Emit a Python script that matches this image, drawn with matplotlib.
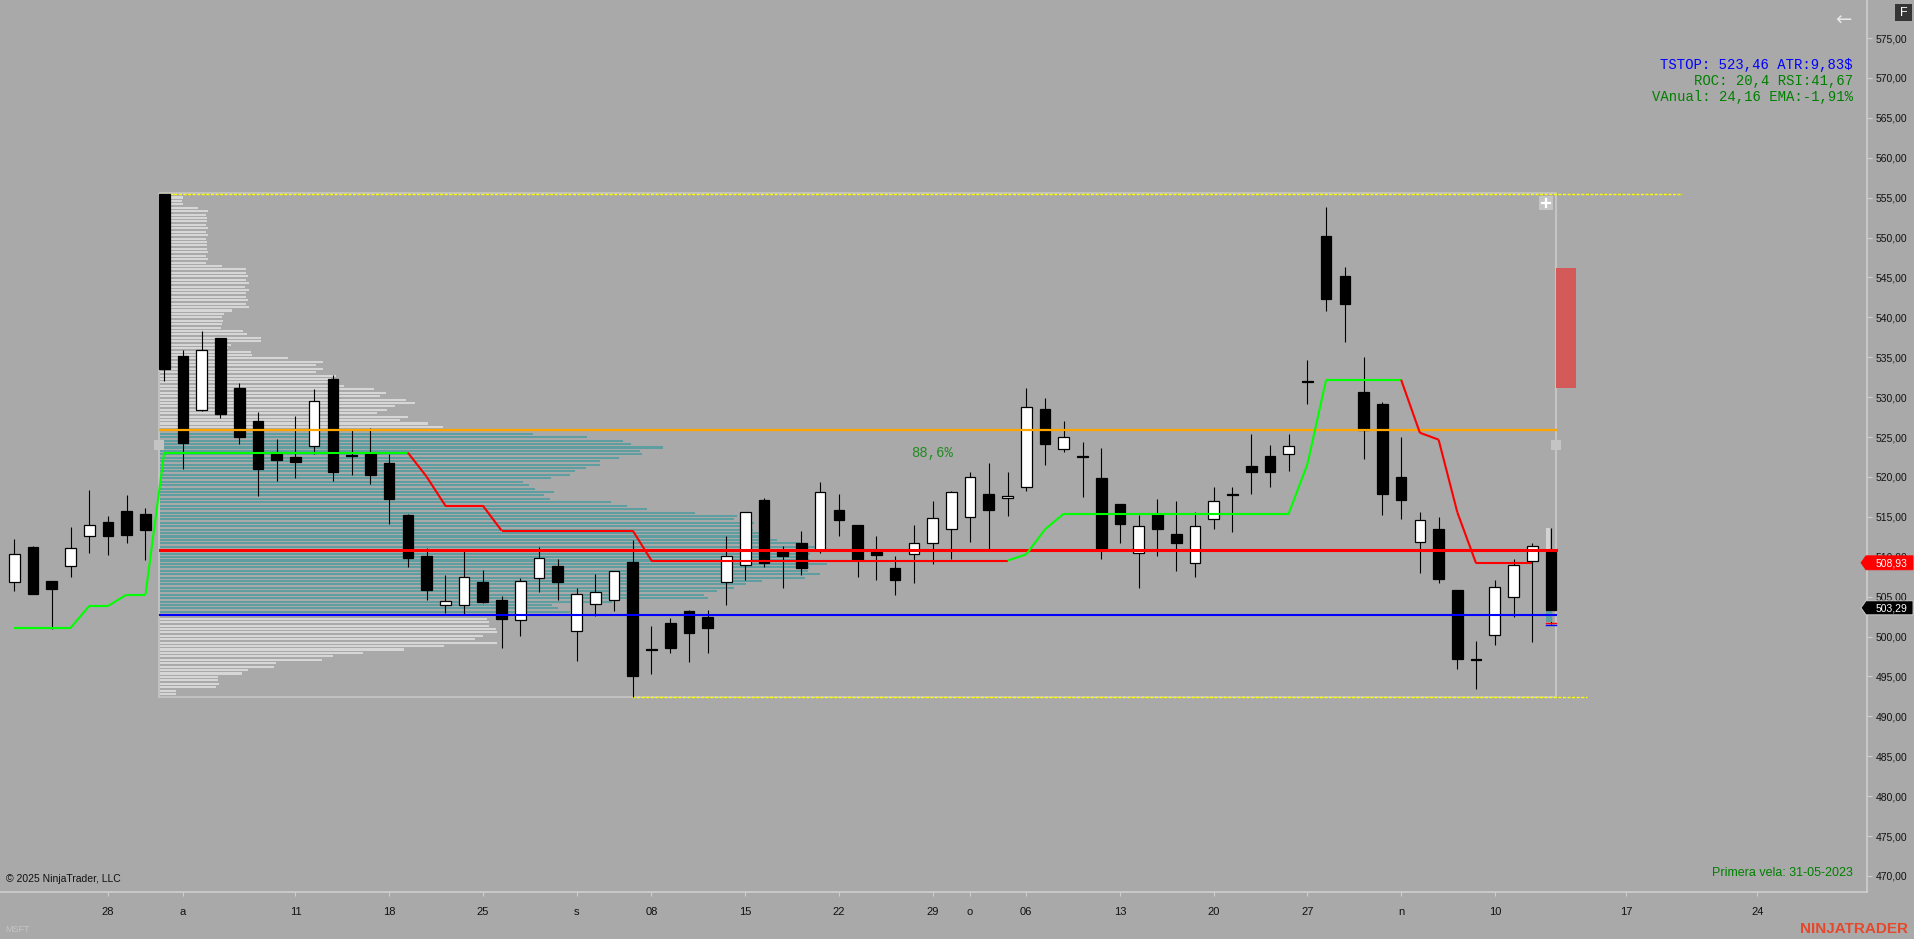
import numpy as np
import pandas as pd
import matplotlib
matplotlib.use('Agg')
import matplotlib.pyplot as plt
from matplotlib.patches import Rectangle, Polygon
from matplotlib.collections import LineCollection

plt.rcParams['font.family'] = ['Liberation Sans', 'DejaVu Sans']

# MSFT daily bars 21-07-2025 .. 13-11-2025
opens = [506.89, 511.23, 506.93, 508.89, 512.65, 514.36, 515.74, 515.37, 555.40, 535.16,
         528.44, 537.42, 531.15, 527.02, 522.88, 522.51, 523.93, 532.28, 522.80, 522.88,
         521.76, 515.24, 510.10, 503.92, 503.92, 506.84, 504.59, 502.12, 507.30, 508.85,
         500.66, 504.05, 504.55, 509.31, 498.40, 501.66, 503.17, 502.45, 506.80, 508.93,
         517.12, 510.85, 511.73, 510.81, 515.86, 513.98, 510.56, 508.55, 510.31, 511.69,
         513.44, 514.94, 517.83, 517.32, 518.79, 528.48, 523.47, 522.55, 519.83, 516.57,
         510.43, 515.36, 512.86, 509.18, 514.78, 517.80, 521.38, 522.63, 522.91, 531.95,
         550.19, 545.18, 530.63, 529.17, 520.02, 511.90, 513.50, 505.82, 497.15, 500.25,
         505.00, 509.53, 510.61]
highs = [512.23, 511.40, 507.00, 513.74, 518.37, 515.11, 517.75, 516.12, 555.45, 535.92,
         538.30, 537.45, 531.78, 528.15, 524.76, 527.65, 531.03, 532.78, 526.02, 526.14,
         522.88, 515.30, 511.10, 507.72, 510.85, 508.35, 505.09, 507.39, 511.23, 509.73,
         506.09, 507.80, 508.20, 512.11, 501.33, 502.29, 503.34, 503.33, 512.60, 515.60,
         517.37, 511.35, 513.23, 519.37, 517.87, 514.00, 512.60, 510.10, 513.98, 516.99,
         518.24, 520.62, 521.71, 520.62, 531.15, 529.86, 527.02, 524.38, 523.59, 516.60,
         515.24, 517.24, 516.99, 515.61, 518.75, 518.75, 525.39, 524.03, 525.38, 534.65,
         553.85, 546.30, 535.04, 529.38, 525.02, 515.61, 514.97, 505.85, 499.43, 507.03,
         509.70, 511.73, 513.63]
lows = [505.76, 505.30, 500.91, 507.51, 510.52, 510.27, 511.77, 509.64, 532.07, 521.05,
        528.30, 527.44, 524.18, 517.66, 519.54, 519.92, 522.84, 519.54, 520.29, 519.17,
        514.15, 508.77, 504.63, 502.92, 502.71, 504.25, 498.62, 500.12, 505.63, 504.63,
        496.99, 502.63, 503.25, 492.37, 495.27, 497.91, 496.86, 497.98, 504.00, 507.09,
        508.76, 506.09, 507.72, 510.52, 512.65, 507.51, 507.13, 505.25, 506.76, 509.05,
        509.76, 511.89, 510.98, 515.15, 518.29, 521.50, 523.17, 517.53, 509.72, 511.77,
        506.13, 510.14, 508.26, 507.51, 513.48, 513.11, 517.91, 518.80, 520.75, 529.17,
        540.82, 536.85, 522.30, 515.27, 514.79, 508.02, 506.77, 495.93, 493.47, 498.95,
        502.49, 499.26, 501.54]
closes = [510.31, 505.38, 506.01, 511.06, 513.94, 512.65, 512.78, 513.40, 533.58, 524.30,
          535.87, 527.94, 525.06, 521.05, 522.17, 521.92, 529.48, 520.67, 522.65, 520.29,
          517.25, 509.89, 505.88, 504.42, 507.43, 504.38, 502.25, 506.93, 509.81, 506.89,
          505.30, 505.55, 508.18, 495.11, 498.32, 498.62, 500.49, 501.12, 510.06, 515.57,
          509.18, 510.10, 508.64, 518.08, 514.65, 509.60, 510.27, 507.13, 511.69, 514.82,
          518.08, 519.96, 515.90, 517.58, 528.73, 524.18, 524.97, 522.45, 511.14, 514.15,
          513.82, 513.52, 511.77, 513.82, 516.95, 517.70, 520.67, 520.64, 523.86, 531.85,
          542.24, 541.73, 525.93, 517.90, 517.17, 514.58, 507.24, 497.23, 497.05, 506.16,
          508.97, 511.34, 503.29]

# trailing stop (green = long, red = short)
tstop = [501.08, 501.08, 501.08, 501.08, 503.84, 503.84, 505.26, 505.26, 523.05, 523.05,
         523.05, 523.05, 523.05, 523.05, 523.05, 523.05, 523.05, 523.05, 523.05, 523.05,
         523.05, 523.05, 520.04, 516.41, 516.41, 516.41, 513.28, 513.28, 513.28, 513.28,
         513.28, 513.28, 513.28, 513.28, 509.52, 509.52, 509.52, 509.52, 509.52, 509.52,
         509.52, 509.52, 509.52, 509.52, 509.52, 509.52, 509.52, 509.52, 509.52, 509.52,
         509.52, 509.52, 509.52, 509.52, 510.31, 513.44, 515.40, 515.40, 515.40, 515.40,
         515.40, 515.40, 515.40, 515.40, 515.40, 515.40, 515.40, 515.40, 515.40, 521.60,
         532.19, 532.19, 532.19, 532.19, 532.19, 525.54, 524.68, 515.57, 509.18, 509.18,
         509.18, 509.18]
tstop_side = ['L'] * 22 + ['S'] * 32 + ['L'] * 21 + ['S'] * 7

# volume profile from 31-07 high to the end (relative volume per row, top -> bottom)
profile_vol = [15, 23, 22, 23, 38, 48, 46, 47, 47, 46, 48, 46, 48, 46, 47, 47, 47, 48, 46, 48,
               46, 62, 86, 86, 88, 86, 89, 85, 89, 86, 86, 88, 86, 89, 72, 64, 62, 63, 62, 61,
               83, 87, 101, 101, 71, 68, 91, 92, 128, 163, 156, 163, 156, 176, 171, 173, 184, 214, 226, 220,
               246, 255, 235, 227, 217, 248, 240, 268, 283, 300,
               373, 427, 463, 471, 503, 480, 482, 459, 440, 440, 426, 415, 410, 391, 363, 369, 375, 394, 384, 390,
               451, 467, 487, 535, 577, 574, 594, 586, 593, 600, 610, 617, 640, 655, 680, 650, 645, 650, 667, 649,
               648, 660, 645, 602, 586, 574, 557, 544, 548, 452, 392, 398, 410, 415,
               327, 329, 329, 336, 337, 323, 315, 337, 284, 244, 203, 173, 162, 116, 114, 88, 82, 58, 58, 59,
               56, 16, 16]
prof_high = 555.45
prof_low = 492.37
poc = 510.83
vah = 525.84
val = 502.67

last_price = 503.29
stop_price = 508.93

tick_dates = ['2025-07-28', '2025-08-01', '2025-08-11', '2025-08-18', '2025-08-25', '2025-09-02',
              '2025-09-08', '2025-09-15', '2025-09-22', '2025-09-29', '2025-10-01', '2025-10-06',
              '2025-10-13', '2025-10-20', '2025-10-27', '2025-11-03', '2025-11-10', '2025-11-17',
              '2025-11-24']
tick_labels = ['28', 'a', '11', '18', '25', 's', '08', '15', '22', '29', 'o', '06', '13', '20', '27',
               'n', '10', '17', '24']

dates = pd.bdate_range('2025-07-21', '2025-11-13')
dates = dates[dates != pd.Timestamp('2025-09-01')]


def date_pos(d):
    d = pd.Timestamp(d)
    if d in dates:
        return dates.get_loc(d)
    # future area runs on calendar days
    return len(dates) - 1 + (d - dates[-1]).days


BG = '#a9a9a9'
YMIN, YMAX = 467.99, 579.77
fig = plt.figure(figsize=(19.14, 9.39), dpi=100, facecolor=BG)
ax = fig.add_axes([0, 47 / 939, 1867 / 1914, 892 / 939])
ax.set_facecolor(BG)
ax.set_xlim(-0.763, 98.86)
ax.set_ylim(YMIN, YMAX)

# ---- volume profile
n = len(profile_vol)
step = (prof_high - prof_low) / n
rows = prof_high - np.arange(n) * step
vol = np.array(profile_vol, dtype=float)
widths = vol / vol.max() * 36.3
cols = ['#5f9ea0' if (val - 0.01 <= p <= vah + 0.01) else '#d6d6d6' for p in rows]
left = 7.75
ax.barh(rows, widths, height=step * 0.6, left=left, color=cols, zorder=1)

box_r = len(closes) - 1 + 0.25
ax.plot([left - 0.05, left - 0.05], [prof_low, prof_high], color='#c4c4c4', lw=1.3, zorder=1.5)
ax.plot([box_r, box_r], [prof_low, prof_high], color='#c4c4c4', lw=1.5, zorder=1.5)
ax.plot([left, box_r], [prof_high + 0.1, prof_high + 0.1], color='#c4c4c4', lw=1.3, zorder=1.5)
ax.plot([left, box_r], [prof_low, prof_low], color='#c4c4c4', lw=1.3, zorder=1.5)
hi_bar = int(np.argmax(highs))
lo_bar = int(np.argmin(lows))
ax.plot([hi_bar - 0.2, 89.0], [prof_high, prof_high], color='#ffff00', lw=1, ls=(0, (2.2, 1.1)), zorder=2)
ax.plot([lo_bar - 0.05, 83.9], [prof_low, prof_low], color='#ffff00', lw=1, ls=(0, (2.2, 1.1)), zorder=2)

# red zone at the right of the box
ax.add_patch(Rectangle((82.27, 531.15), 1.06, 15.05, facecolor='#d45959', edgecolor='none', zorder=2))

# ---- candles
x = np.arange(len(closes))
ax.vlines(x, lows, highs, color='black', lw=0.8, zorder=3)
for i in x:
    o, c = opens[i], closes[i]
    up = c >= o
    ax.add_patch(Rectangle((i - 0.285, min(o, c)), 0.57, max(abs(c - o), 0.12),
                           facecolor='white' if up else 'black', edgecolor='black', lw=0.9, zorder=4))

# small profile of the last session
ax.add_patch(Rectangle((81.75, 510.7), 0.22, 2.9, facecolor='#d3d3d3', edgecolor='none', zorder=3.5))
ax.add_patch(Rectangle((81.75, 501.8), 0.28, 1.9, facecolor='#5f9ea0', edgecolor='none', zorder=3.5))
ax.plot([81.75, 82.25], [501.7, 501.7], color='red', lw=1, zorder=5)
ax.plot([81.75, 82.25], [501.45, 501.45], color='blue', lw=1, zorder=5)

# ---- value area lines
ax.plot([left, box_r], [vah, vah], color='#ffa500', lw=1.6, zorder=5)
ax.plot([left, box_r], [poc, poc], color='#ff0000', lw=2.2, zorder=5)
ax.plot([left, box_r], [val, val], color='#0000ff', lw=1.5, zorder=5)

# ---- trailing stop
segs, scol = [], []
for i in range(1, len(tstop)):
    segs.append([(i - 1, tstop[i - 1]), (i, tstop[i])])
    scol.append('#00ff00' if tstop_side[i] == 'L' else '#ff0000')
ax.add_collection(LineCollection(segs, colors=scol, linewidths=1.5, zorder=5))

ax.text(48.95, 523.05, '88,6%', color='#228b22', fontsize=10, family='Liberation Mono',
        ha='center', va='center', zorder=6)

# ---- axes
for s in ['top', 'left']:
    ax.spines[s].set_visible(False)
for s in ['right', 'bottom']:
    ax.spines[s].set_color('#cfcfcf')
    ax.spines[s].set_linewidth(1.2)
yt = np.arange(470, 576, 5)
ax.yaxis.tick_right()
ax.set_yticks(yt, [f'{v:.2f}'.replace('.', ',') for v in yt])
ax.tick_params(axis='y', direction='out', length=3.6, width=0.8, color='#cfcfcf',
               labelsize=7.5, labelcolor='#111111', pad=2.5)
ax.set_xticks([date_pos(d) for d in tick_dates], tick_labels)
ax.tick_params(axis='x', direction='out', length=3, width=0.8, color='#cfcfcf',
               labelsize=8, labelcolor='#111111', pad=8)
for lab in ax.get_xticklabels():
    lab.set_family(['Liberation Sans Narrow', 'Liberation Sans'])

# ---- overlay in pixel coordinates
ov = fig.add_axes([0, 0, 1, 1], zorder=10)
ov.set_xlim(0, 1914)
ov.set_ylim(939, 0)
ov.axis('off')
ov.patch.set_alpha(0)


def py(p):
    return (YMAX - p) / (YMAX - YMIN) * 892


def price_tag(p, txt, fc, ec):
    y = py(p) - 2.5
    ov.add_patch(Polygon([(1861, y), (1866, y - 7), (1913, y - 7), (1913, y + 7), (1866, y + 7)],
                         closed=True, facecolor=fc, edgecolor=ec, lw=0.6))
    ov.text(1876, y + 0.5, txt, color='white', fontsize=7.5, ha='left', va='center')


price_tag(stop_price, f'{stop_price:.2f}'.replace('.', ','), '#ff0000', '#ff0000')
price_tag(last_price, f'{last_price:.2f}'.replace('.', ','), '#000000', '#d8d8d8')

# handles on the profile box
ov.add_patch(Rectangle((154, 440), 10, 10, facecolor='#c4c4c4', edgecolor='none'))
ov.add_patch(Rectangle((1551, 440), 10, 10, facecolor='#c4c4c4', edgecolor='none'))
ov.add_patch(Rectangle((1539, 196), 14, 14, facecolor='#c4c4c4', edgecolor='none'))
ov.plot([1542, 1550], [203, 203], color='white', lw=1.6)
ov.plot([1546, 1546], [199, 207], color='white', lw=1.6)

mono = 'Liberation Mono'
ov.text(1853, 65, 'TSTOP: 523,46 ATR:9,83$', color='#0000ff', fontsize=10, family=mono, ha='right', va='center')
ov.text(1853, 81, 'ROC: 20,4 RSI:41,67', color='#008000', fontsize=10, family=mono, ha='right', va='center')
ov.text(1853, 97, 'VAnual: 24,16 EMA:-1,91%', color='#008000', fontsize=10, family=mono, ha='right', va='center')

ov.text(1853, 873, 'Primera vela: 31-05-2023', color='#008000', fontsize=9, ha='right', va='center')
ov.text(6, 879, '\u00a9 2025 NinjaTrader, LLC', color='#111111', fontsize=7.5, ha='left', va='center')
ov.text(5, 929, 'MSFT', color='#c4c4c4', fontsize=6.5, ha='left', va='center',
        family=['Liberation Sans Narrow', 'Liberation Sans'])
ov.text(1908, 929, 'NINJATRADER', color='#e5482b', fontsize=11, weight='bold', ha='right', va='center',
        family=['Liberation Sans Narrow', 'Liberation Sans'])

ov.add_patch(Rectangle((1895, 4), 17, 17, facecolor='#353535', edgecolor='none'))
ov.text(1903.5, 12.5, 'F', color='white', fontsize=9, ha='center', va='center')
ov.text(1843, 20, '\u2190', color='#e6e6e6', fontsize=14, ha='center', va='center', family='DejaVu Sans')

fig.savefig('out.png', dpi=100, facecolor=BG)
